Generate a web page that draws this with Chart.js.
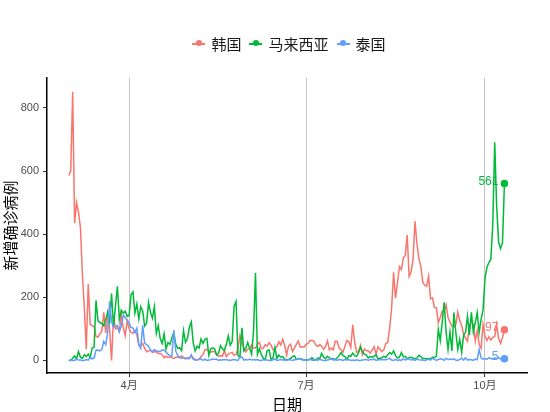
<!DOCTYPE html>
<html>
<head>
<meta charset="utf-8">
<script src="https://cdn.jsdelivr.net/npm/chart.js@4"></script>
<style>
  html, body { margin: 0; padding: 0; background: #fff; }
  #wrap { position: relative; width: 550px; height: 412px; }
  #legend {
    position: absolute; top: 33px; left: 14px; width: 550px;
    display: flex; justify-content: center; align-items: center;
    font-family: "Noto Sans CJK SC", sans-serif; font-size: 15px; color: #1a1a1a;
  }
  .legend-item { display: flex; align-items: center; margin: 0 4px; }
  .legend-key { position: relative; width: 13px; height: 2px; margin-right: 6px; }
  .legend-key::after {
    content: ""; position: absolute; left: 3.5px; top: -2.5px;
    width: 6px; height: 6px; border-radius: 50%; background: inherit;
  }
</style>
</head>
<body>
<div id="wrap">
  <div id="legend"></div>
  <canvas id="casesChart" width="550" height="412"></canvas>
</div>
<script>
// day 0 = 4月1日; series start on 3月1日
const startDay = -31;
const tickDays = [0, 91, 183];
const tickLabels = ["4月", "7月", "10月"];
const seriesNames = ["韩国", "马来西亚", "泰国"];
const seriesColors = ["#F8766D", "#00BA38", "#619CFF"];

const korea = [
  586, 600, 851, 435, 500, 470, 420, 272, 165, 35, 242, 114, 110, 107, 76, 74, 84, 93, 152, 87, 147, 98, 0, 140, 100, 104, 91, 146, 105, 78, 125,
  101, 89, 86, 94, 81, 47, 47, 53, 39, 27, 30, 32, 25, 27, 27, 22, 22, 18, 8, 13, 9, 11, 8, 6, 10, 10, 10, 14, 9, 4,
  9, 6, 13, 8, 3, 2, 4, 12, 18, 34, 35, 27, 26, 29, 27, 19, 13, 15, 13, 32, 12, 20, 23, 25, 16, 19, 40, 79, 58, 39, 27,
  35, 38, 49, 39, 39, 51, 57, 37, 38, 50, 45, 56, 48, 34, 37, 43, 59, 49, 67, 48, 17, 46, 51, 28, 39, 51, 62, 42, 43, 42,
  51, 54, 63, 63, 61, 48, 44, 50, 45, 35, 44, 62, 33, 39, 33, 61, 60, 39, 34, 26, 45, 63, 59, 41, 113, 58, 25, 28, 48, 18, 36,
  31, 30, 23, 33, 43, 20, 43, 36, 28, 34, 54, 56, 103, 166, 279, 197, 246, 297, 288, 324, 332, 397, 266, 280, 320, 441, 371, 323, 299, 248, 238,
  235, 267, 195, 198, 168, 167, 119, 136, 156, 155, 176, 136, 121, 109, 106, 113, 153, 126, 110, 82, 70, 61, 110, 125, 114, 61, 95, 50, 38, 113,
  77, 63, 75, 64, 73, 75, 114, 69, 54, 72, 97
];

const malaysia = [
  0, 0, 7, 14, 5, 28, 10, 6, 18, 12, 20, 9, 39, 41, 190, 125, 120, 117, 110, 130, 153, 123, 212, 106, 172, 235, 130, 159, 150, 156, 140,
  142, 208, 217, 150, 179, 131, 170, 156, 109, 118, 184, 153, 134, 170, 85, 110, 69, 54, 84, 36, 57, 50, 71, 88, 51, 38, 40, 31, 94, 57,
  69, 105, 122, 55, 30, 45, 39, 68, 54, 67, 70, 16, 37, 40, 36, 17, 22, 47, 37, 31, 50, 78, 48, 60, 172, 187, 15, 10, 103, 30, 38,
  57, 38, 20, 93, 277, 19, 37, 19, 7, 2, 31, 33, 2, 8, 41, 6, 17, 10, 12, 4, 2, 3, 6, 12, 15, 3, 4, 6, 4, 1,
  1, 2, 3, 9, 2, 1, 7, 5, 22, 10, 5, 13, 8, 6, 5, 2, 8, 15, 25, 15, 12, 3, 15, 13, 23, 15, 13, 24, 42, 27, 20,
  17, 8, 12, 10, 13, 18, 4, 7, 8, 13, 9, 18, 25, 20, 30, 15, 7, 10, 25, 12, 12, 5, 9, 10, 7, 6, 7, 16, 12, 6, 6,
  5, 6, 5, 10, 9, 13, 98, 62, 120, 184, 89, 35, 90, 30, 152, 89, 35, 67, 25, 80, 89, 140, 80, 152, 90, 120, 152, 89, 130, 160,
  260, 295, 310, 320, 430, 691, 489, 375, 354, 374, 561
];

const thailand = [
  0, 1, 0, 0, 4, 1, 1, 0, 0, 3, 1, 11, 5, 7, 32, 33, 30, 35, 60, 50, 89, 188, 122, 106, 107, 111, 91, 109, 143, 136, 127,
  120, 104, 103, 89, 102, 51, 38, 111, 54, 50, 45, 33, 28, 34, 30, 29, 28, 33, 32, 27, 19, 15, 13, 95, 30, 15, 9, 7, 9, 7,
  6, 6, 18, 3, 1, 1, 3, 5, 0, 4, 0, 1, 2, 4, 3, 4, 0, 2, 1, 3, 2, 1, 0, 2, 3, 1, 0, 11, 11, 1, 3,
  1, 4, 1, 3, 1, 3, 0, 0, 2, 3, 1, 0, 0, 2, 5, 0, 1, 3, 1, 2, 0, 3, 2, 0, 2, 3, 6, 5, 1, 2,
  0, 1, 5, 1, 0, 3, 0, 4, 1, 0, 0, 1, 3, 5, 1, 4, 0, 3, 2, 0, 3, 2, 3, 0, 1, 0, 2, 0, 0, 1, 2,
  3, 0, 3, 2, 4, 0, 2, 2, 3, 2, 2, 4, 7, 1, 0, 3, 0, 2, 0, 6, 1, 5, 4, 1, 3, 0, 4, 2, 1, 1, 0,
  2, 4, 1, 7, 3, 0, 3, 5, 4, 0, 7, 2, 4, 3, 5, 1, 0, 3, 7, 1, 8, 1, 3, 2, 0, 4, 2, 35, 8, 4,
  6, 3, 9, 6, 4, 8, 5, 9, 4, 3, 5
];

const seriesValues = [korea, malaysia, thailand];
const labelFont = '"Liberation Sans", "Noto Sans CJK SC", sans-serif';
const titleFont = '"Noto Sans CJK SC", sans-serif';

function toPoints(values) {
  return values.map((value, index) => ({ x: startDay + index, y: value }));
}

const legendEl = document.getElementById("legend");
seriesNames.forEach((name, index) => {
  const item = document.createElement("div");
  item.className = "legend-item";
  const key = document.createElement("span");
  key.className = "legend-key";
  key.style.background = seriesColors[index];
  const text = document.createElement("span");
  text.textContent = name;
  item.append(key, text);
  legendEl.append(item);
});

// value labels next to the last point of each line
const endLabels = {
  id: "endLabels",
  afterDatasetsDraw(chart) {
    const ctx = chart.ctx;
    chart.data.datasets.forEach((dataset, index) => {
      const meta = chart.getDatasetMeta(index);
      const last = meta.data[meta.data.length - 1];
      ctx.save();
      ctx.font = `12px ${labelFont}`;
      ctx.fillStyle = dataset.borderColor;
      ctx.textAlign = "right";
      ctx.textBaseline = "middle";
      ctx.fillText(String(dataset.data[dataset.data.length - 1].y), last.x - 6, last.y - 2);
      ctx.restore();
    });
  }
};

new Chart(document.getElementById("casesChart"), {
  type: "line",
  data: {
    datasets: seriesNames.map((name, index) => ({
      label: name,
      data: toPoints(seriesValues[index]),
      borderColor: seriesColors[index],
      backgroundColor: seriesColors[index],
      borderWidth: 1.5,
      tension: 0,
      order: 3 - index,
      pointRadius: (ctx) => (ctx.dataIndex === seriesValues[index].length - 1 ? 3 : 0),
      pointHoverRadius: 0
    }))
  },
  options: {
    responsive: false,
    animation: false,
    layout: { padding: { top: 78, right: 23, left: 0, bottom: 0 } },
    plugins: { legend: { display: false }, tooltip: { enabled: false } },
    scales: {
      x: {
        type: "linear",
        min: -42.2,
        max: 204.6,
        afterBuildTicks: (scale) => { scale.ticks = tickDays.map((value) => ({ value })); },
        afterFit: (scale) => { scale.height = 39; },
        ticks: {
          callback: (value) => tickLabels[tickDays.indexOf(value)],
          color: "#4d4d4d",
          font: { family: labelFont, size: 11 },
          padding: 2,
          maxRotation: 0
        },
        grid: { color: "#c4c4c4", lineWidth: 1, tickColor: "#333", tickLength: 4 },
        border: { color: "#000", width: 1.5 },
        title: {
          display: true,
          text: "日期",
          color: "#000",
          font: { family: titleFont, size: 15, lineHeight: 1 },
          padding: { top: 0, bottom: 0 }
        }
      },
      y: {
        min: -40,
        max: 895,
        afterBuildTicks: (scale) => { scale.ticks = [0, 200, 400, 600, 800].map((value) => ({ value })); },
        afterFit: (scale) => { scale.width = 47; },
        ticks: {
          color: "#4d4d4d",
          font: { family: labelFont, size: 11 },
          padding: 4
        },
        grid: { drawOnChartArea: false, tickColor: "#333", tickLength: 4 },
        border: { color: "#000", width: 1.5 },
        title: {
          display: true,
          text: "新增确诊病例",
          color: "#000",
          font: { family: titleFont, size: 15, lineHeight: 1.2 },
          padding: { top: 1, bottom: 0 }
        }
      }
    }
  },
  plugins: [endLabels]
});
</script>
</body>
</html>
